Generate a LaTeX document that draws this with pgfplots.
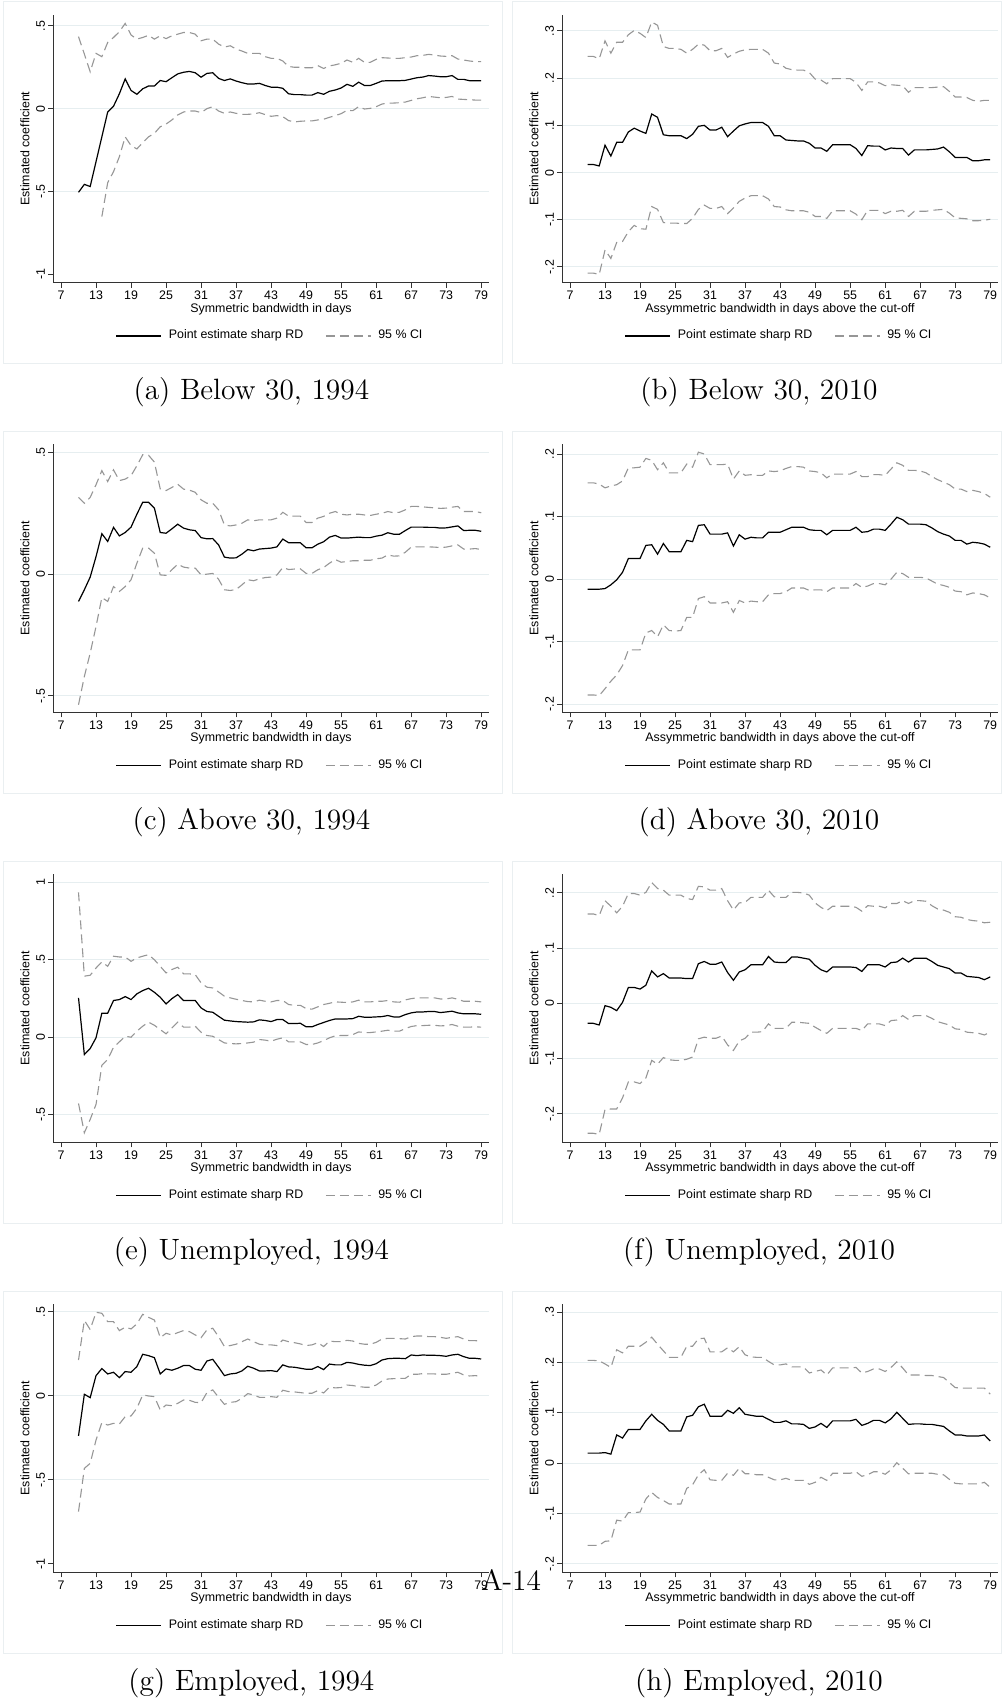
\documentclass[border=0pt]{standalone}
\usepackage{fontspec}
\usepackage{pgfplots}
\usepackage{pgfplotstable}
\pgfplotsset{compat=1.18}
\newfontfamily\statafamily{Liberation Sans}
\newcommand\statafont{\statafamily\fontsize{6.2}{7.4}\selectfont}
\definecolor{gridc}{RGB}{230,238,240}
\definecolor{framec}{RGB}{234,239,241}
\definecolor{cigray}{RGB}{150,150,150}

% columns: bandwidth, point estimate, lower and upper 95% bound
\pgfplotstableread{
x est lo hi
10 -0.505 nan 0.435
11 -0.457 nan 0.33
12 -0.47 nan 0.223
13 -0.32 nan 0.334
14 -0.17 -0.652 0.314
15 -0.02 -0.447 0.40
16 0.015 -0.38 0.43
17 0.09 -0.29 0.465
18 0.18 -0.17 0.515
19 0.11 -0.223 0.445
20 0.087 -0.243 0.42
21 0.12 -0.205 0.43
22 0.137 -0.17 0.443
23 0.137 -0.149 0.42
24 0.17 -0.109 0.44
25 0.163 -0.093 0.423
26 0.187 -0.068 0.44
27 0.21 -0.038 0.45
28 0.22 -0.02 0.46
29 0.225 -0.014 0.46
30 0.217 -0.014 0.45
31 0.19 -0.024 0.41
32 0.213 0 0.42
33 0.217 0.012 0.42
34 0.183 -0.014 0.39
35 0.17 -0.028 0.372
36 0.18 -0.02 0.38
37 0.167 -0.028 0.36
38 0.157 -0.034 0.348
39 0.149 -0.034 0.334
40 0.149 -0.032 0.334
41 0.153 -0.024 0.334
42 0.14 -0.036 0.314
43 0.13 -0.046 0.304
44 0.13 -0.042 0.304
45 0.123 -0.048 0.288
46 0.09 -0.072 0.255
47 0.085 -0.08 0.25
48 0.085 -0.076 0.25
49 0.082 -0.074 0.247
50 0.082 -0.074 0.247
51 0.097 -0.068 0.26
52 0.087 -0.064 0.243
53 0.105 -0.052 0.258
54 0.113 -0.042 0.265
55 0.125 -0.03 0.274
56 0.147 -0.01 0.294
57 0.135 -0.012 0.28
58 0.16 0.012 0.304
59 0.14 -0.002 0.28
60 0.14 0.002 0.28
61 0.153 0.012 0.298
62 0.167 0.028 0.308
63 0.169 0.034 0.306
64 0.169 0.034 0.304
65 0.169 0.036 0.304
66 0.171 0.04 0.308
67 0.179 0.05 0.312
68 0.187 0.06 0.32
69 0.191 0.066 0.322
70 0.2 0.074 0.328
71 0.197 0.07 0.324
72 0.193 0.066 0.318
73 0.193 0.068 0.316
74 0.2 0.074 0.32
75 0.177 0.058 0.30
76 0.177 0.056 0.294
77 0.169 0.054 0.288
78 0.169 0.052 0.284
79 0.169 0.052 0.284
}\tabA

\pgfplotstableread{
x est lo hi
10 0.017 -0.213 0.246
11 0.017 -0.213 0.246
12 0.014 -0.216 0.241
13 0.058 -0.164 0.279
14 0.035 -0.182 0.253
15 0.064 -0.148 0.276
16 0.064 -0.146 0.276
17 0.086 -0.125 0.292
18 0.094 -0.112 0.301
19 0.088 -0.119 0.295
20 0.083 -0.12 0.286
21 0.124 -0.072 0.319
22 0.117 -0.078 0.312
23 0.08 -0.106 0.267
24 0.078 -0.107 0.263
25 0.078 -0.107 0.263
26 0.078 -0.108 0.261
27 0.072 -0.108 0.253
28 0.081 -0.097 0.261
29 0.098 -0.078 0.272
30 0.1 -0.069 0.27
31 0.09 -0.076 0.258
32 0.09 -0.076 0.258
33 0.096 -0.072 0.263
34 0.076 -0.087 0.244
35 0.088 -0.075 0.251
36 0.099 -0.061 0.257
37 0.103 -0.054 0.26
38 0.106 -0.049 0.261
39 0.106 -0.049 0.261
40 0.106 -0.049 0.261
41 0.098 -0.056 0.253
42 0.078 -0.072 0.232
43 0.078 -0.073 0.23
44 0.069 -0.079 0.221
45 0.068 -0.081 0.218
46 0.067 -0.081 0.217
47 0.067 -0.081 0.217
48 0.062 -0.084 0.212
49 0.052 -0.093 0.198
50 0.052 -0.093 0.196
51 0.045 -0.097 0.188
52 0.059 -0.081 0.199
53 0.059 -0.081 0.199
54 0.059 -0.081 0.199
55 0.059 -0.081 0.199
56 0.051 -0.088 0.191
57 0.036 -0.1 0.174
58 0.057 -0.08 0.192
59 0.056 -0.08 0.192
60 0.056 -0.08 0.19
61 0.048 -0.087 0.184
62 0.052 -0.082 0.186
63 0.051 -0.082 0.185
64 0.051 -0.08 0.184
65 0.037 -0.093 0.17
66 0.048 -0.082 0.18
67 0.048 -0.082 0.18
68 0.048 -0.082 0.18
69 0.049 -0.08 0.18
70 0.05 -0.079 0.181
71 0.054 -0.078 0.182
72 0.044 -0.086 0.172
73 0.032 -0.096 0.16
74 0.032 -0.097 0.16
75 0.032 -0.098 0.159
76 0.025 -0.102 0.153
77 0.025 -0.102 0.151
78 0.027 -0.101 0.153
79 0.027 -0.099 0.153
}\tabB

\pgfplotstableread{
x est lo hi
10 -0.112 -0.536 0.315
11 -0.064 -0.42 0.291
12 -0.012 -0.324 0.315
13 0.072 -0.215 0.367
14 0.166 -0.096 0.425
15 0.134 -0.112 0.38
16 0.192 -0.051 0.428
17 0.157 -0.071 0.384
18 0.171 -0.051 0.39
19 0.193 -0.023 0.404
20 0.246 0.045 0.445
21 0.295 0.107 0.49
22 0.295 0.107 0.488
23 0.271 0.086 0.46
24 0.171 -0.003 0.35
25 0.168 -0.005 0.343
26 0.186 0.018 0.356
27 0.205 0.041 0.369
28 0.189 0.029 0.349
29 0.182 0.025 0.345
30 0.179 0.025 0.336
31 0.15 -0.003 0.305
32 0.145 0 0.291
33 0.146 0.003 0.291
34 0.12 -0.021 0.264
35 0.07 -0.064 0.202
36 0.066 -0.067 0.198
37 0.067 -0.063 0.202
38 0.082 -0.044 0.209
39 0.101 -0.023 0.223
40 0.096 -0.027 0.219
41 0.103 -0.019 0.223
42 0.105 -0.014 0.223
43 0.107 -0.012 0.223
44 0.112 -0.003 0.23
45 0.144 0.027 0.254
46 0.129 0.019 0.238
47 0.129 0.021 0.238
48 0.129 0.022 0.238
49 0.108 0.003 0.212
50 0.108 0.003 0.212
51 0.123 0.018 0.23
52 0.133 0.027 0.237
53 0.152 0.045 0.25
54 0.159 0.06 0.257
55 0.148 0.049 0.246
56 0.148 0.052 0.243
57 0.15 0.055 0.246
58 0.152 0.055 0.246
59 0.15 0.057 0.243
60 0.15 0.057 0.241
61 0.156 0.063 0.246
62 0.16 0.066 0.25
63 0.17 0.079 0.257
64 0.164 0.074 0.252
65 0.164 0.075 0.254
66 0.179 0.09 0.264
67 0.193 0.111 0.278
68 0.193 0.112 0.278
69 0.193 0.112 0.276
70 0.192 0.112 0.274
71 0.192 0.111 0.272
72 0.189 0.109 0.27
73 0.19 0.111 0.271
74 0.194 0.116 0.275
75 0.198 0.12 0.278
76 0.179 0.103 0.257
77 0.18 0.103 0.257
78 0.18 0.105 0.257
79 0.176 0.101 0.252
}\tabC

\pgfplotstableread{
x est lo hi
10 -0.016 -0.185 0.154
11 -0.016 -0.185 0.154
12 -0.016 -0.186 0.152
13 -0.015 -0.175 0.146
14 -0.009 -0.163 0.149
15 -0.001 -0.153 0.151
16 0.011 -0.138 0.157
17 0.033 -0.113 0.178
18 0.033 -0.113 0.178
19 0.033 -0.113 0.179
20 0.054 -0.086 0.193
21 0.055 -0.082 0.19
22 0.04 -0.092 0.175
23 0.057 -0.073 0.186
24 0.044 -0.082 0.17
25 0.044 -0.083 0.17
26 0.044 -0.082 0.17
27 0.062 -0.061 0.184
28 0.06 -0.061 0.179
29 0.086 -0.031 0.203
30 0.087 -0.028 0.2
31 0.072 -0.038 0.183
32 0.072 -0.038 0.183
33 0.072 -0.038 0.183
34 0.074 -0.036 0.184
35 0.053 -0.053 0.16
36 0.071 -0.034 0.173
37 0.064 -0.038 0.166
38 0.067 -0.035 0.167
39 0.066 -0.036 0.166
40 0.066 -0.036 0.166
41 0.075 -0.025 0.173
42 0.075 -0.023 0.172
43 0.075 -0.023 0.173
44 0.079 -0.02 0.177
45 0.083 -0.014 0.18
46 0.083 -0.014 0.18
47 0.083 -0.014 0.179
48 0.079 -0.018 0.173
49 0.078 -0.017 0.172
50 0.078 -0.017 0.17
51 0.071 -0.02 0.162
52 0.078 -0.014 0.168
53 0.078 -0.014 0.168
54 0.078 -0.014 0.168
55 0.078 -0.014 0.168
56 0.083 -0.007 0.172
57 0.075 -0.013 0.164
58 0.076 -0.011 0.164
59 0.08 -0.007 0.167
60 0.08 -0.007 0.167
61 0.078 -0.009 0.166
62 0.088 0 0.176
63 0.099 0.011 0.186
64 0.095 0.009 0.182
65 0.088 0.003 0.174
66 0.088 0.003 0.174
67 0.088 0.003 0.173
68 0.087 0.002 0.17
69 0.082 -0.003 0.164
70 0.076 -0.008 0.159
71 0.072 -0.01 0.155
72 0.069 -0.013 0.151
73 0.062 -0.019 0.144
74 0.062 -0.02 0.144
75 0.056 -0.025 0.14
76 0.059 -0.022 0.142
77 0.058 -0.023 0.14
78 0.056 -0.025 0.137
79 0.051 -0.03 0.131
}\tabD

\pgfplotstableread{
x est lo hi
10 0.254 -0.428 0.935
11 -0.112 -0.617 0.394
12 -0.073 -0.531 0.4
13 -0.004 -0.434 0.447
14 0.155 -0.181 0.486
15 0.155 -0.144 0.458
16 0.237 -0.065 0.523
17 0.243 -0.03 0.518
18 0.262 0.006 0.518
19 0.243 0 0.49
20 0.28 0.039 0.512
21 0.301 0.071 0.523
22 0.316 0.097 0.533
23 0.29 0.077 0.5
24 0.258 0.049 0.458
25 0.215 0.022 0.415
26 0.249 0.06 0.437
27 0.275 0.097 0.452
28 0.237 0.065 0.409
29 0.237 0.065 0.409
30 0.237 0.071 0.404
31 0.189 0.032 0.351
32 0.166 0.011 0.323
33 0.161 0.006 0.318
34 0.135 -0.015 0.292
35 0.11 -0.037 0.265
36 0.105 -0.041 0.254
37 0.101 -0.043 0.245
38 0.099 -0.041 0.237
39 0.097 -0.037 0.23
40 0.099 -0.032 0.228
41 0.112 -0.015 0.239
42 0.108 -0.019 0.232
43 0.101 -0.026 0.228
44 0.114 -0.013 0.237
45 0.114 -0.004 0.237
46 0.088 -0.03 0.211
47 0.088 -0.03 0.206
48 0.09 -0.03 0.206
49 0.067 -0.047 0.185
50 0.067 -0.047 0.181
51 0.082 -0.037 0.196
52 0.095 -0.022 0.211
53 0.108 -0.004 0.219
54 0.118 0.009 0.228
55 0.118 0.011 0.226
56 0.118 0.011 0.224
57 0.12 0.017 0.228
58 0.135 0.034 0.239
59 0.129 0.03 0.228
60 0.129 0.03 0.228
61 0.131 0.034 0.232
62 0.133 0.039 0.232
63 0.14 0.045 0.237
64 0.131 0.039 0.228
65 0.131 0.039 0.226
66 0.146 0.056 0.241
67 0.157 0.069 0.249
68 0.163 0.075 0.254
69 0.163 0.075 0.254
70 0.166 0.077 0.254
71 0.166 0.077 0.254
72 0.159 0.073 0.247
73 0.163 0.075 0.247
74 0.168 0.082 0.254
75 0.157 0.071 0.245
76 0.151 0.065 0.232
77 0.151 0.065 0.232
78 0.151 0.067 0.232
79 0.148 0.065 0.228
}\tabE

\pgfplotstableread{
x est lo hi
10 -0.036 -0.235 0.162
11 -0.036 -0.235 0.162
12 -0.039 -0.237 0.159
13 -0.004 -0.192 0.186
14 -0.007 -0.191 0.176
15 -0.013 -0.191 0.164
16 0.002 -0.171 0.176
17 0.029 -0.142 0.199
18 0.029 -0.142 0.199
19 0.026 -0.145 0.196
20 0.033 -0.135 0.201
21 0.059 -0.103 0.219
22 0.048 -0.11 0.208
23 0.054 -0.098 0.205
24 0.046 -0.102 0.196
25 0.046 -0.103 0.196
26 0.046 -0.103 0.196
27 0.045 -0.101 0.19
28 0.045 -0.097 0.188
29 0.072 -0.064 0.212
30 0.076 -0.061 0.211
31 0.071 -0.063 0.205
32 0.071 -0.063 0.205
33 0.075 -0.059 0.208
34 0.056 -0.075 0.186
35 0.042 -0.085 0.169
36 0.057 -0.068 0.182
37 0.061 -0.063 0.183
38 0.07 -0.052 0.192
39 0.07 -0.052 0.192
40 0.07 -0.051 0.192
41 0.085 -0.037 0.205
42 0.075 -0.045 0.193
43 0.074 -0.045 0.192
44 0.074 -0.045 0.192
45 0.084 -0.034 0.201
46 0.084 -0.034 0.201
47 0.082 -0.035 0.2
48 0.08 -0.036 0.196
49 0.069 -0.043 0.182
50 0.061 -0.049 0.174
51 0.057 -0.054 0.168
52 0.066 -0.045 0.176
53 0.066 -0.045 0.176
54 0.066 -0.045 0.176
55 0.066 -0.045 0.176
56 0.065 -0.045 0.174
57 0.058 -0.049 0.167
58 0.07 -0.037 0.177
59 0.07 -0.037 0.176
60 0.07 -0.037 0.176
61 0.066 -0.04 0.173
62 0.074 -0.031 0.181
63 0.075 -0.03 0.181
64 0.082 -0.022 0.186
65 0.075 -0.029 0.181
66 0.082 -0.022 0.186
67 0.082 -0.022 0.186
68 0.082 -0.022 0.185
69 0.076 -0.027 0.177
70 0.069 -0.033 0.171
71 0.066 -0.036 0.169
72 0.063 -0.039 0.165
73 0.055 -0.046 0.157
74 0.055 -0.047 0.156
75 0.049 -0.052 0.152
76 0.048 -0.053 0.15
77 0.047 -0.054 0.149
78 0.043 -0.057 0.146
79 0.048 -0.052 0.147
}\tabF

\pgfplotstableread{
x est lo hi
10 -0.238 -0.688 0.214
11 0.01 -0.431 0.45
12 -0.01 -0.401 0.395
13 0.121 -0.262 0.498
14 0.163 -0.159 0.492
15 0.131 -0.173 0.442
16 0.141 -0.163 0.442
17 0.109 -0.167 0.389
18 0.145 -0.123 0.409
19 0.141 -0.119 0.399
20 0.175 -0.073 0.429
21 0.248 0.006 0.486
22 0.24 0 0.468
23 0.228 -0.004 0.452
24 0.131 -0.083 0.347
25 0.161 -0.054 0.373
26 0.153 -0.058 0.363
27 0.165 -0.044 0.377
28 0.181 -0.024 0.389
29 0.181 -0.026 0.383
30 0.159 -0.038 0.363
31 0.153 -0.04 0.347
32 0.208 0.02 0.393
33 0.218 0.036 0.403
34 0.171 -0.008 0.353
35 0.121 -0.05 0.294
36 0.131 -0.038 0.3
37 0.135 -0.034 0.308
38 0.149 -0.014 0.323
39 0.177 0.014 0.339
40 0.165 0.006 0.323
41 0.149 -0.008 0.308
42 0.149 -0.008 0.304
43 0.151 -0.004 0.304
44 0.145 -0.008 0.3
45 0.185 0.034 0.333
46 0.173 0.026 0.323
47 0.171 0.024 0.317
48 0.165 0.02 0.31
49 0.159 0.016 0.3
50 0.159 0.016 0.304
51 0.175 0.032 0.317
52 0.157 0.018 0.294
53 0.19 0.052 0.327
54 0.185 0.048 0.323
55 0.185 0.05 0.323
56 0.2 0.065 0.331
57 0.196 0.062 0.327
58 0.188 0.056 0.313
59 0.183 0.052 0.308
60 0.181 0.052 0.308
61 0.192 0.065 0.319
62 0.214 0.089 0.339
63 0.222 0.101 0.343
64 0.224 0.103 0.343
65 0.224 0.105 0.341
66 0.222 0.105 0.339
67 0.244 0.129 0.353
68 0.24 0.129 0.357
69 0.244 0.133 0.357
70 0.242 0.131 0.353
71 0.242 0.131 0.353
72 0.24 0.129 0.349
73 0.236 0.129 0.343
74 0.244 0.135 0.349
75 0.248 0.141 0.353
76 0.234 0.125 0.339
77 0.224 0.119 0.329
78 0.224 0.121 0.329
79 0.22 0.117 0.327
}\tabG

\pgfplotstableread{
x est lo hi
10 0.02 -0.163 0.204
11 0.02 -0.163 0.204
12 0.02 -0.163 0.203
13 0.021 -0.155 0.197
14 0.018 -0.154 0.19
15 0.056 -0.113 0.225
16 0.05 -0.115 0.219
17 0.067 -0.098 0.232
18 0.067 -0.098 0.232
19 0.067 -0.097 0.232
20 0.084 -0.071 0.24
21 0.097 -0.058 0.25
22 0.085 -0.068 0.236
23 0.077 -0.074 0.223
24 0.064 -0.081 0.21
25 0.064 -0.081 0.21
26 0.064 -0.081 0.21
27 0.092 -0.05 0.232
28 0.095 -0.043 0.232
29 0.112 -0.023 0.247
30 0.117 -0.013 0.248
31 0.093 -0.033 0.221
32 0.093 -0.034 0.221
33 0.093 -0.034 0.221
34 0.105 -0.02 0.229
35 0.099 -0.024 0.221
36 0.11 -0.01 0.231
37 0.097 -0.021 0.215
38 0.095 -0.021 0.211
39 0.093 -0.023 0.21
40 0.093 -0.023 0.21
41 0.087 -0.028 0.202
42 0.081 -0.033 0.195
43 0.081 -0.033 0.195
44 0.084 -0.03 0.197
45 0.078 -0.034 0.191
46 0.078 -0.034 0.191
47 0.077 -0.034 0.191
48 0.069 -0.042 0.179
49 0.072 -0.038 0.182
50 0.079 -0.028 0.185
51 0.071 -0.034 0.175
52 0.084 -0.02 0.189
53 0.084 -0.02 0.189
54 0.084 -0.02 0.189
55 0.084 -0.02 0.189
56 0.087 -0.017 0.19
57 0.075 -0.026 0.179
58 0.079 -0.023 0.182
59 0.085 -0.017 0.187
60 0.085 -0.017 0.187
61 0.08 -0.022 0.182
62 0.088 -0.013 0.19
63 0.101 0.001 0.201
64 0.089 -0.01 0.189
65 0.077 -0.021 0.175
66 0.078 -0.02 0.175
67 0.078 -0.02 0.175
68 0.077 -0.02 0.174
69 0.077 -0.02 0.174
70 0.075 -0.022 0.172
71 0.073 -0.023 0.17
72 0.064 -0.032 0.16
73 0.056 -0.04 0.15
74 0.056 -0.041 0.149
75 0.054 -0.041 0.149
76 0.054 -0.041 0.149
77 0.054 -0.041 0.149
78 0.056 -0.038 0.149
79 0.044 -0.048 0.137
}\tabH

\pgfplotsset{
  stata/.style={
    scale only axis, width=217.75pt, height=134pt,
    anchor=south west,
    xmin=5.68, xmax=80.3,
    axis x line*=bottom, axis y line*=left,
    axis line style={line width=0.5pt, black!80, -},
    tick align=outside, major tick length=2.5pt,
    major tick style={line width=0.5pt, black!80},
    xtick={7,13,...,79},
    xticklabels={7,13,19,25,31,37,43,49,55,61,67,73,79},
    ticklabel style={font=\statafont},
    xticklabel style={inner sep=1.5pt},
    yticklabel style={rotate=90, anchor=south, inner sep=1.5pt},
    ymajorgrids, grid style={line width=0.5pt, gridc},
    ylabel={Estimated coefficient},
    label style={font=\statafont},
    ylabel style={at={(axis description cs:-0.065,0.5)}, anchor=center},
    xlabel style={at={(axis description cs:0.5,0)}, yshift=-13.15pt, anchor=center},
    legend columns=2,
    legend style={draw=none, fill=none, font=\statafont,
      at={(axis description cs:0.5,0)}, yshift=-26.65pt, anchor=center,
      /tikz/every odd column/.append style={column sep=1.5pt},
      /tikz/every even column/.append style={column sep=9pt}},
    legend image code/.code={\draw[##1] (0pt,0pt) -- (22.5pt,0pt);},
  },
  est/.style={black, line width=0.6pt},
  ci/.style={cigray, line width=0.55pt, dash pattern=on 4.5pt off 2.5pt},
}

% one panel: table, legend entries and the three series
\newcommand\bands[1]{%
  \addplot[est] table[x=x,y=est]{#1};
  \addlegendentry{Point estimate sharp RD}
  \addplot[ci] table[x=x,y=lo]{#1};
  \addlegendentry{95 \% CI}
  \addplot[ci, forget plot] table[x=x,y=hi]{#1};
}

\begin{document}
\begin{tikzpicture}
\useasboundingbox (0,0) rectangle (501.5pt,850.5pt);

% graph region outlines
\foreach \k in {0,1,2,3}{
  \draw[framec, line width=0.4pt] (1.65pt,{669pt-215pt*\k}) rectangle (251pt,{849.75pt-215pt*\k});
  \draw[framec, line width=0.4pt] (256.25pt,{669pt-215pt*\k}) rectangle (500.5pt,{849.75pt-215pt*\k});
}

% (a) Below 30, 1994
\begin{axis}[stata, at={(26.65pt,709.15pt)}, ymin=-1.0507, ymax=0.5677,
  ytick={-0.5,0,0.5}, yticklabels={-.5,0,.5},
  extra y ticks={-1}, extra y tick labels={-1}, extra y tick style={grid=none},
  xlabel={Symmetric bandwidth in days}]
\bands{\tabA}
\end{axis}

% (b) Below 30, 2010
\begin{axis}[stata, at={(281.15pt,709.15pt)}, ymin=-0.2333, ymax=0.3345,
  ytick={-0.2,-0.1,0,0.1,0.2,0.3}, yticklabels={-.2,-.1,0,.1,.2,.3},
  xlabel={Assymmetric bandwidth in days above the cut-off}]
\bands{\tabB}
\end{axis}

% (c) Above 30, 1994
\begin{axis}[stata, at={(26.65pt,494.35pt)}, ymin=-0.5669, ymax=0.533,
  ytick={-0.5,0,0.5}, yticklabels={-.5,0,.5},
  xlabel={Symmetric bandwidth in days}]
\bands{\tabC}
\end{axis}

% (d) Above 30, 2010
\begin{axis}[stata, at={(281.15pt,494.35pt)}, ymin=-0.2127, ymax=0.2156,
  ytick={-0.2,-0.1,0,0.1,0.2}, yticklabels={-.2,-.1,0,.1,.2},
  xlabel={Assymmetric bandwidth in days above the cut-off}]
\bands{\tabD}
\end{axis}

% (e) Unemployed, 1994
\begin{axis}[stata, at={(26.65pt,279.35pt)}, ymin=-0.6786, ymax=1.052,
  ytick={-0.5,0,0.5,1}, yticklabels={-.5,0,.5,1},
  xlabel={Symmetric bandwidth in days}]
\bands{\tabE}
\end{axis}

% (f) Unemployed, 2010
\begin{axis}[stata, at={(281.15pt,279.35pt)}, ymin=-0.2513, ymax=0.2338,
  ytick={-0.2,-0.1,0,0.1,0.2}, yticklabels={-.2,-.1,0,.1,.2},
  xlabel={Assymmetric bandwidth in days above the cut-off}]
\bands{\tabF}
\end{axis}

% (g) Employed, 1994
\begin{axis}[stata, at={(26.65pt,64.35pt)}, ymin=-1.0496, ymax=0.5456,
  ytick={-0.5,0,0.5}, yticklabels={-.5,0,.5},
  extra y ticks={-1}, extra y tick labels={-1}, extra y tick style={grid=none},
  xlabel={Symmetric bandwidth in days}]
\bands{\tabG}
\end{axis}

% (h) Employed, 2010
\begin{axis}[stata, at={(281.15pt,64.35pt)}, ymin=-0.2165, ymax=0.3153,
  ytick={-0.2,-0.1,0,0.1,0.2,0.3}, yticklabels={-.2,-.1,0,.1,.2,.3},
  xlabel={Assymmetric bandwidth in days above the cut-off}]
\bands{\tabH}
\end{axis}

% sub-captions
\begin{scope}[every node/.style={font=\fontsize{14.7}{17.5}\selectfont, inner sep=0pt}]
\node at (125.7pt,654.2pt) {(a) Below 30, 1994};
\node at (379.5pt,654.2pt) {(b) Below 30, 2010};
\node at (125.7pt,439.5pt) {(c) Above 30, 1994};
\node at (379.5pt,439.5pt) {(d) Above 30, 2010};
\node at (125.7pt,224.2pt) {(e) Unemployed, 1994};
\node at (379.5pt,224.2pt) {(f) Unemployed, 2010};
\node at (125.7pt,9pt) {(g) Employed, 1994};
\node at (379.5pt,9pt) {(h) Employed, 2010};
\node[anchor=base] at (255.5pt,55.15pt) {A-14};
\end{scope}
\end{tikzpicture}
\end{document}
